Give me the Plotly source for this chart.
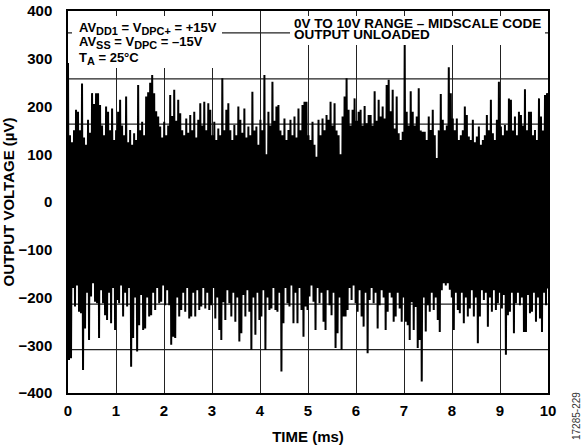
import numpy as np
import plotly.graph_objects as go

# ---- data (µV), one peak + one trough per 1/24 ms bin ----
time_range_ms = [0, 10]
x_ticks = list(range(0, 11))
y_ticks = list(range(-400, 401, 100))
grid_y_uv = [354, 258, 163, 69, -25, -120, -214, -309]

peaks_uv = [
    291, 140, 125, 150, 193, 189, 150, 248, 135, 120, 172, 145, 228, 205, 228, 228, 203, 160, 140, 200,
    189, 150, 196, 130, 150, 189, 214, 160, 140, 221, 125, 151, 120, 144, 130, 245, 150, 168, 140, 221,
    230, 250, 266, 228, 190, 179, 158, 135, 168, 140, 160, 224, 180, 235, 170, 214, 186, 150, 140, 175,
    145, 182, 150, 189, 135, 172, 207, 160, 210, 150, 207, 193, 140, 168, 130, 154, 140, 259, 150, 193,
    207, 150, 130, 161, 140, 200, 172, 145, 196, 135, 158, 140, 231, 150, 158, 120, 172, 150, 266, 100,
    189, 160, 252, 170, 200, 203, 150, 140, 175, 130, 151, 172, 140, 179, 135, 196, 150, 203, 210, 210,
    140, 130, 168, 120, 95, 172, 140, 175, 150, 182, 172, 210, 160, 207, 150, 140, 100, 179, 221, 259,
    193, 160, 193, 217, 170, 189, 193, 160, 201, 165, 182, 182, 160, 232, 170, 214, 179, 200, 175, 245,
    256, 190, 235, 154, 221, 144, 130, 147, 329, 189, 160, 232, 189, 160, 179, 238, 150, 147, 147, 130,
    179, 151, 193, 140, 92, 150, 226, 172, 150, 160, 282, 228, 175, 150, 175, 130, 140, 150, 200, 182,
    137, 130, 172, 125, 137, 158, 120, 130, 140, 182, 150, 214, 144, 130, 172, 252, 158, 140, 161, 150,
    217, 214, 150, 179, 140, 189, 182, 160, 236, 150, 189, 189, 140, 151, 130, 217, 179, 150, 224, 228,
]

troughs_uv = [
    -331, -327, -180, -219, -175, -230, -233, -352, -265, -190, -289, -198, -170, -209, -212, -285, -185, -212, -237, -247,
    -190, -254, -180, -268, -205, -212, -175, -240, -190, -219, -180, -345, -285, -200, -313, -258, -195, -268, -265, -200,
    -240, -237, -190, -226, -180, -212, -209, -175, -216, -185, -216, -299, -282, -285, -200, -240, -226, -190, -230, -180,
    -244, -240, -190, -240, -185, -226, -219, -180, -223, -190, -226, -216, -180, -244, -200, -268, -289, -210, -247, -185,
    -212, -240, -190, -251, -200, -292, -275, -195, -240, -185, -230, -310, -200, -278, -190, -247, -240, -185, -310, -200,
    -226, -223, -180, -226, -230, -190, -355, -254, -180, -212, -219, -175, -254, -190, -254, -180, -226, -282, -219, -226,
    -198, -175, -209, -268, -180, -212, -190, -251, -268, -185, -216, -237, -190, -306, -275, -200, -310, -240, -240, -226,
    -180, -205, -175, -212, -230, -185, -240, -261, -190, -317, -205, -180, -212, -190, -265, -216, -185, -200, -268, -230,
    -190, -200, -251, -240, -190, -223, -251, -200, -251, -258, -289, -210, -268, -220, -306, -289, -376, -200, -271, -216,
    -230, -190, -226, -200, -247, -272, -185, -170, -175, -170, -184, -200, -268, -190, -226, -233, -190, -254, -200, -240,
    -223, -185, -240, -200, -296, -240, -185, -205, -190, -261, -200, -230, -185, -226, -212, -190, -223, -195, -320, -237,
    -230, -190, -275, -212, -190, -216, -200, -272, -272, -195, -233, -230, -190, -251, -200, -244, -272, -190, -216, -181,
]

# interleave the typed peaks and troughs into one sample stream
n = len(peaks_uv)
signal_uv = np.empty(2 * n)
signal_uv[0::2] = peaks_uv
signal_uv[1::2] = troughs_uv
time_ms = np.linspace(time_range_ms[0], time_range_ms[1], 2 * n)

FONT = "Liberation Sans, Arial, sans-serif"

fig = go.Figure()
fig.add_trace(go.Scatter(
    x=time_ms, y=signal_uv, mode="lines",
    line=dict(color="black", width=2.0, simplify=False),
    hoverinfo="skip", showlegend=False,
))

# plot-area geometry in pixels (for the text boxes)
L, R, T, B = 68, 548, 11, 393
PW, PH = R - L, B - T
def px(x):
    return (x - L) / PW
def py(y):
    return 1 - (y - T) / PH

shapes = []
for v in grid_y_uv:
    shapes.append(dict(type="line", xref="paper", x0=0, x1=1, yref="y", y0=v, y1=v,
                       line=dict(color="#222", width=1.2), layer="below"))
# white boxes behind the condition texts
shapes.append(dict(type="rect", xref="paper", yref="paper",
                   x0=px(72), x1=px(222), y0=py(68), y1=py(16),
                   fillcolor="white", line=dict(width=0), layer="above"))
shapes.append(dict(type="rect", xref="paper", yref="paper",
                   x0=px(290), x1=px(545), y0=py(45), y1=py(16),
                   fillcolor="white", line=dict(width=0), layer="above"))

def sub(s):
    return '<sub><span style="font-size:120%">' + s + '</span></sub>'

ann_font = dict(family=FONT, size=13, color="black", weight="bold")
ann_font_r = dict(family=FONT, size=13.5, color="black", weight="bold")
annotations = [
    dict(text="AV" + sub("DD1") + " = V" + sub("DPC+") + " = +15V", x=px(77), y=py(28), font=ann_font),
    dict(text="AV" + sub("SS") + " = V" + sub("DPC") + " = –15V", x=px(77), y=py(43), font=ann_font),
    dict(text="T" + sub("A") + " = 25°C", x=px(77), y=py(58), font=ann_font),
    dict(text="0V TO 10V RANGE – MIDSCALE CODE", x=px(292), y=py(23), font=ann_font_r),
    dict(text="OUTPUT UNLOADED", x=px(292), y=py(35), font=ann_font_r),
]
for a in annotations:
    a.update(xref="paper", yref="paper", xanchor="left", yanchor="middle",
             showarrow=False)
annotations.append(dict(text="17285-229", xref="paper", yref="paper",
                        x=px(576), y=py(416), textangle=-90, showarrow=False,
                        xanchor="center", yanchor="middle",
                        font=dict(family=FONT, size=10, color="#333")))

axis_common = dict(
    showline=True, linecolor="black", linewidth=1.5, mirror=True,
    ticks="", zeroline=False, automargin=False,
    tickfont=dict(family=FONT, size=15, color="black", weight="bold"),
)

fig.update_layout(
    width=583, height=448,
    margin=dict(l=L, r=583 - R, t=T, b=448 - B),
    paper_bgcolor="white", plot_bgcolor="white",
    font=dict(family=FONT, color="black"),
    shapes=shapes, annotations=annotations,
    xaxis=dict(range=time_range_ms, tickvals=x_ticks, showgrid=True,
               gridcolor="#222", gridwidth=1.2, ticklabelstandoff=3,
               title=dict(text="TIME (ms)", standoff=14,
                          font=dict(family=FONT, size=15, color="black", weight="bold")),
               **axis_common),
    yaxis=dict(range=[-400, 400], tickvals=y_ticks, showgrid=False,
               ticklabelstandoff=11,
               title=dict(text="OUTPUT VOLTAGE (µV)", standoff=4,
                          font=dict(family=FONT, size=15, color="black", weight="bold")),
               **axis_common),
)

fig.write_html("out.html", config={"displayModeBar": False},
               post_script="document.body.style.margin='0';")
